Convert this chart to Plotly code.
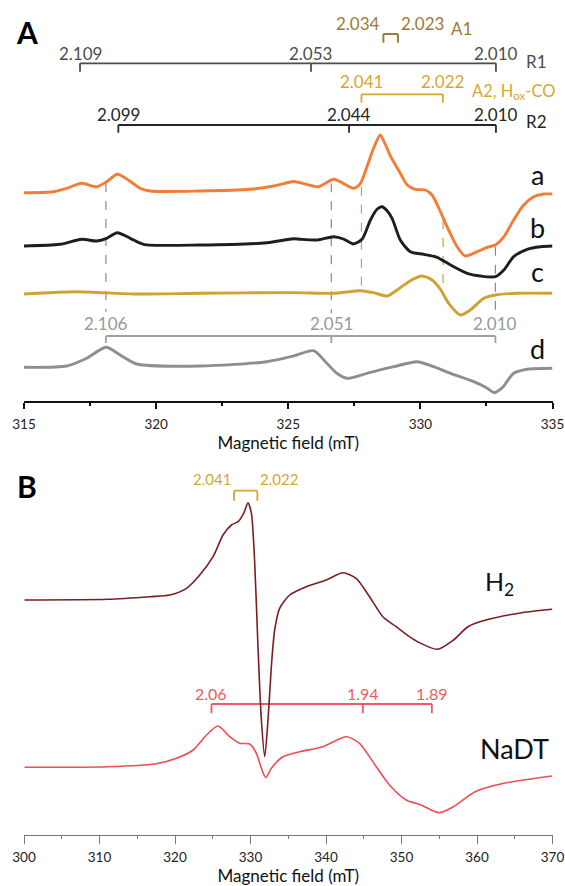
import plotly.graph_objects as go

# ---------------- Panel A spectra (field in mT, intensity in arb. units, baseline = 0) ----------
a_field = [315.0, 316.11, 316.62, 317.18, 317.75, 318.13, 318.53, 318.95, 319.39, 319.77, 321.67,
           323.56, 324.44, 325.2, 325.45, 326.15, 326.72, 327.47, 327.73, 327.98, 328.23, 328.48,
           328.67, 328.86, 329.24, 329.5, 329.81, 330.19, 330.44, 330.76, 331.01, 331.39, 331.7,
           332.15, 332.53, 332.84, 333.16, 333.53, 333.91, 334.29, 334.67, 335.0]
a_int = [0, 1.0, 4.4, 9.4, 6.0, 11.0, 18.4, 12.7, 4.4, 1.7, 1.7,
         3.4, 6.7, 11.2, 10.0, 6.0, 13.4, 4.4, 9.4, 26, 44.4, 57.7,
         48.5, 37, 19.4, 7.7, 3.4, 2.7, -2.3, -19, -34, -54, -63.3,
         -59, -54.6, -52.3, -44, -27.3, -12.3, -4, -1.3, -1.3]

b_field = [315.0, 316.36, 317.18, 317.75, 318.13, 318.53, 319.02, 319.52, 321.67, 324.19, 325.2,
           325.45, 326.09, 326.72, 327.09, 327.47, 327.79, 328.11, 328.36, 328.55, 328.74, 328.93,
           329.24, 329.62, 330.13, 330.63, 331.14, 331.77, 332.27, 332.84, 333.16, 333.53, 334.04,
           334.55, 335.0]
b_int = [-1, 0.7, 5.7, 4, 6.7, 12.3, 6.7, 0.7, 0, 2.3, 6.3,
         5.7, 5, 8.3, 6, 1, 5.7, 25, 35.7, 38.3, 34.3, 26.7,
         5, -6.7, -9.3, -12.3, -20, -28.3, -31, -31.7, -25, -11.7, -4.3,
         -1.7, -1]

c_field = [315.0, 317.0, 319.14, 321.67, 325.2, 326.72, 327.73, 328.23, 328.74, 329.12, 329.62,
           330.06, 330.44, 330.76, 331.07, 331.52, 331.89, 332.4, 332.84, 333.66, 335.0]
c_int = [-0.7, 1.6, -0.7, 0, 0.7, 0, 2.6, 0.6, -2.7, 3.3, 12.6,
         17.3, 13.3, 4, -10, -21.7, -16.7, -5, -1.7, 0, 0]

d_field = [315.0, 316.62, 317.37, 318.1, 318.64, 319.27, 321.67, 324.19, 325.2, 325.96, 326.46,
           326.84, 327.22, 327.98, 328.99, 329.87, 330.5, 331.14, 332.02, 332.5, 332.8, 333.1,
           333.53, 334.04, 335.0]
d_int = [-0.6, 0.7, 8.4, 19.4, 11.7, 2.7, 0.7, 5, 10.7, 16, 3.4,
         -6.6, -11.6, -6.6, 0, 5, 0, -6.6, -15, -21, -26, -21,
         -6.6, -2.6, -1.6]

# ---------------- Panel B spectra ----------------
h2_field = [300.07, 311.1, 316.67, 319.31, 321.52, 323.28, 325.04, 326.36, 327.47, 328.35, 329.1,
            329.67, 330.12, 330.56, 330.99, 331.44, 331.88, 332.32, 332.76, 333.2, 333.86, 335.19,
            337.39, 340.04, 342.24, 344.0, 345.77, 347.53, 349.3, 351.06, 352.12, 354.74, 356.88,
            358.8, 361.18, 365.94, 369.97]
h2_int = [0, 0.7, 3.3, 5, 11.7, 25, 43.3, 65, 75, 78.3, 86.7,
          97.3, 86.7, 36.7, -46.7, -120, -156.7, -120, -66.7, -30, -8.3, 5,
          13.3, 20, 27.3, 21.7, 3.3, -16.7, -26.7, -36.7, -41.7, -49.3, -40,
          -26.7, -20, -12.7, -9.3]

nadt_field = [300.07, 311.1, 317.33, 320.2, 322.4, 324.17, 325.7, 327.25, 328.57, 329.89, 330.78,
              331.44, 332.01, 332.76, 334.3, 336.51, 339.59, 342.68, 344.44, 346.65, 348.41, 350.62,
              352.59, 354.97, 356.88, 359.75, 363.56, 369.97]
nadt_int = [-0.3, 0.3, 3, 8.7, 17, 32, 41, 30.3, 23.7, 23, 13.7,
            -1.3, -10.7, -1.3, 10.3, 15.3, 20.3, 30.3, 23.7, 0.3, -18, -33,
            -38, -45.7, -39.7, -24.7, -16.3, -9]

# ---------------- g-value markers (label, field position in mT) ----------------
A1_labels = ["2.034", "2.023"];          A1_pos = [328.6, 329.15]
R1_labels = ["2.109", "2.053", "2.010"]; R1_pos = [317.12, 325.86, 332.86]
A2_labels = ["2.041", "2.022"];          A2_pos = [327.77, 330.85]
R2_labels = ["2.099", "2.044", "2.010"]; R2_pos = [318.57, 327.3, 332.86]
D_labels = ["2.106", "2.051", "2.010"];  D_pos = [318.1, 326.63, 332.84]
gray_dash_pos = [318.1, 326.63, 332.84]
gold_dash_pos = [327.77, 330.86]
BH2_labels = ["2.041", "2.022"];         BH2_pos = [327.82, 330.91]
BNa_labels = ["2.06", "1.94", "1.89"];   BNa_pos = [324.83, 344.88, 354.02]

xA_ticks = [315, 320, 325, 330, 335]
xB_ticks = [300, 310, 320, 330, 340, 350, 360, 370]

FONT = "Lato"
W, H = 565, 886

# vertical layout (pixel based)
A_axis_px = 401
B_axis_px = 835
B_top_px = 443

def ya(px):  # panel A y units from pixel row
    return A_axis_px - px

def yb(px):
    return B_axis_px - px

offs = {"a": ya(192.7), "b": ya(245), "c": ya(293.3), "d": ya(366.7),
        "h2": yb(600), "nadt": yb(767)}

col = {"a": "#F47C34", "b": "#1E1E1E", "c": "#CFA232", "d": "#8E8E8E",
       "h2": "#7B1E22", "nadt": "#EE4D55"}

fig = go.Figure()

def add_trace(xv, yv, off, color, width, xa, ya_):
    fig.add_trace(go.Scatter(x=xv, y=[v + off for v in yv], mode="lines",
                             line=dict(color=color, width=width, shape="spline", smoothing=0.7),
                             xaxis=xa, yaxis=ya_, showlegend=False, hoverinfo="skip"))

add_trace(a_field, a_int, offs["a"], col["a"], 2.9, "x", "y")
add_trace(b_field, b_int, offs["b"], col["b"], 2.9, "x", "y")
add_trace(c_field, c_int, offs["c"], col["c"], 2.9, "x", "y")
add_trace(d_field, d_int, offs["d"], col["d"], 2.9, "x", "y")
add_trace(nadt_field, nadt_int, offs["nadt"], col["nadt"], 1.6, "x2", "y2")
add_trace(h2_field, h2_int, offs["h2"], col["h2"], 1.6, "x2", "y2")

shapes = []
annots = []

def bracket(pos, y_line, y_tick, color, width, xref, yref):
    shapes.append(dict(type="line", xref=xref, yref=yref, x0=min(pos), x1=max(pos),
                       y0=y_line, y1=y_line, line=dict(color=color, width=width), layer="below"))
    for p in pos:
        shapes.append(dict(type="line", xref=xref, yref=yref, x0=p, x1=p,
                           y0=y_line, y1=y_tick, line=dict(color=color, width=width), layer="below"))

def label(text, x, y, color, size, xref, yref, xanchor="center", yanchor="middle"):
    annots.append(dict(text=text, x=x, y=y, xref=xref, yref=yref, showarrow=False,
                       xanchor=xanchor, yanchor=yanchor,
                       font=dict(family=FONT, size=size, color=color)))

# --- Panel A brackets ---
cA1, cR1, cA2, cR2, cD = "#9C7B33", "#4D4D4D", "#D6A632", "#262626", "#A0A0A0"
bracket(A1_pos, ya(34), ya(42.7), cA1, 2, "x", "y")
label(A1_labels[0], A1_pos[0] - 0.05, ya(23.3), cA1, 17, "x", "y", xanchor="right")
label(A1_labels[1], A1_pos[1] + 0.05, ya(23.3), cA1, 17, "x", "y", xanchor="left")
label("A1", 448.6 / W, 1 - 29 / H, cA1, 17, "paper", "paper", xanchor="left")

bracket(R1_pos, ya(63.3), ya(71.7), cR1, 1.8, "x", "y")
for t, p in zip(R1_labels, R1_pos):
    label(t, p, ya(53.3), cR1, 17, "x", "y")
label("R1", 524 / W, 1 - 62 / H, cR1, 17, "paper", "paper", xanchor="left")

bracket(A2_pos, ya(94.3), ya(102.7), cA2, 1.8, "x", "y")
for t, p in zip(A2_labels, A2_pos):
    label(t, p, ya(81.7), cA2, 17, "x", "y")
label("A2, H<sub>ox</sub>-CO", 470 / W, 1 - 91 / H, cA2, 16.5, "paper", "paper", xanchor="left")

bracket(R2_pos, ya(125), ya(132.7), cR2, 1.8, "x", "y")
for t, p in zip(R2_labels, R2_pos):
    label(t, p, ya(114), cR2, 17, "x", "y")
label("R2", 524 / W, 1 - 122 / H, cR2, 17, "paper", "paper", xanchor="left")

bracket(D_pos, ya(336), ya(343), cD, 1.8, "x", "y")
for t, p in zip(D_labels, D_pos):
    label(t, p, ya(323), "#999999", 17, "x", "y")

# dashed guides
dash_gray_top = [183, 183.3, 246.7]
dash_gray_bot = [311.7, 313.3, 315]
for p, t0, t1 in zip(gray_dash_pos, dash_gray_top, dash_gray_bot):
    shapes.append(dict(type="line", xref="x", yref="y", x0=p, x1=p, y0=ya(t0), y1=ya(t1),
                       line=dict(color="#8A8A8A", width=1.2, dash="dash"), layer="below"))
dash_gold_top = [186.7, 220]
dash_gold_bot = [292, 296]
for p, t0, t1 in zip(gold_dash_pos, dash_gold_top, dash_gold_bot):
    shapes.append(dict(type="line", xref="x", yref="y", x0=p, x1=p, y0=ya(t0), y1=ya(t1),
                       line=dict(color="#C9A032", width=1.2, dash="dash"), layer="below"))

# trace letters
for t, py in zip(["a", "b", "c", "d"], [174.5, 227.5, 271.5, 348.5]):
    label(t, 537 / W, 1 - py / H, "#111111", 27, "paper", "paper")

# --- Panel B brackets ---
cBH2, cBNa = "#D6A632", "#EE5A60"
bracket(BH2_pos, yb(490.7), yb(500.7), cBH2, 1.8, "x2", "y2")
label(BH2_labels[0], BH2_pos[0] - 0.1, yb(479.3), cBH2, 15, "x2", "y2", xanchor="right")
label(BH2_labels[1], BH2_pos[1] + 0.1, yb(479.3), cBH2, 15, "x2", "y2", xanchor="left")

bracket(BNa_pos, yb(704), yb(713.3), cBNa, 1.8, "x2", "y2")
for t, p in zip(BNa_labels, BNa_pos):
    label(t, p, yb(693.3), cBNa, 16, "x2", "y2")

label("H<sub>2</sub>", 483 / W, 1 - 583 / H, "#111111", 25, "paper", "paper", xanchor="left")
label("NaDT", 551 / W, 1 - 748 / H, "#111111", 27, "paper", "paper", xanchor="right")

# panel letters
label("<b>A</b>", 27 / W, 1 - 32 / H, "#000000", 30, "paper", "paper")
label("<b>B</b>", 27 / W, 1 - 486 / H, "#000000", 30, "paper", "paper")

x_dom = [24 / W, 552.5 / W]

fig.update_layout(
    width=W, height=H, margin=dict(l=0, r=0, t=0, b=0),
    paper_bgcolor="white", plot_bgcolor="white", showlegend=False,
    font=dict(family=FONT),
    shapes=shapes, annotations=annots,
    xaxis=dict(domain=x_dom, anchor="y", range=[315, 335], tickvals=xA_ticks,
               showgrid=False, zeroline=False, showline=True, linecolor="#111111", linewidth=1.8,
               ticks="outside", ticklen=6, tickwidth=1.8, tickcolor="#111111",
               minor=dict(dtick=2.5, ticks="outside", ticklen=3, tickwidth=1.5, tickcolor="#111111"),
               tickfont=dict(family=FONT, size=13.5, color="#222222"), ticklabelstandoff=4,
               title=dict(text="Magnetic field (mT)", font=dict(family=FONT, size=17, color="#111111"),
                          standoff=4),
               automargin=False),
    yaxis=dict(domain=[(H - A_axis_px) / H, 1], anchor="x", range=[0, A_axis_px], visible=False),
    xaxis2=dict(domain=x_dom, anchor="y2", range=[300, 370], tickvals=xB_ticks,
                showgrid=False, zeroline=False, showline=True, linecolor="#777777", linewidth=1.2,
                ticks="outside", ticklen=8, tickwidth=1.2, tickcolor="#777777",
                minor=dict(dtick=5, ticks="outside", ticklen=3, tickwidth=1, tickcolor="#777777"),
                tickfont=dict(family=FONT, size=13.5, color="#222222"), ticklabelstandoff=2,
                title=dict(text="Magnetic field (mT)", font=dict(family=FONT, size=17, color="#111111"),
                           standoff=3),
                automargin=False),
    yaxis2=dict(domain=[(H - B_axis_px) / H, (H - B_top_px) / H], anchor="x2",
                range=[0, B_axis_px - B_top_px], visible=False),
)

fig.write_html("out.html", config={"displayModeBar": False},
               post_script="document.body.style.margin='0';document.body.style.padding='0';"
                           "document.body.style.overflow='hidden';")
